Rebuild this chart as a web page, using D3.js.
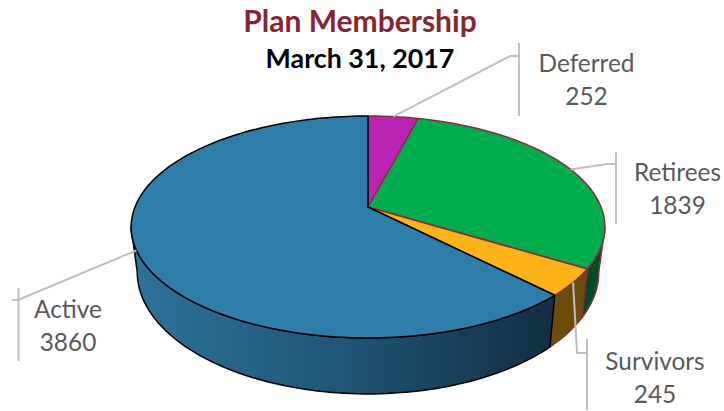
<!DOCTYPE html>
<html>
<head>
<meta charset="utf-8">
<script src="https://cdn.jsdelivr.net/npm/d3@7"></script>
<style>
  html, body { margin: 0; padding: 0; background: #fff; }
  svg { display: block; }
  text { font-family: Lato, "Open Sans", sans-serif; }
</style>
</head>
<body>
<svg id="chart" width="724" height="411"></svg>
<script>
const categories = ["Deferred", "Retirees", "Survivors", "Active"];
const members = [252, 1839, 245, 3860];
const topColors = ["#b926b3", "#00ac4e", "#fdb31a", "#2e7ea9"];
const sideColors = ["#5c1359", "#004d25", "#6b4c0b", "url(#activeSide)"];
const outlineColors = ["#8a2b3e", "#8a2b3e", "#8a2b3e", "#000000"];
// Leader elbow and label placement, in slice order.
const elbows = [[510, 56], [607, 164], [577, 353], [18, 300]];
const barX = [519, 616, 587, 18.5];
const barY = [[43, 116], [152, 224], [339, 410], [288, 361]];
const stubEnd = [519, 616, 587, 12];
const labelX = [586.5, 677.5, 655, 68];
const labelY = [72, 181, 370, 318];

const svg = d3.select("#chart");

// Horizontal shading on the front wall of the largest slice.
const grad = svg.append("defs").append("linearGradient")
  .attr("id", "activeSide").attr("gradientUnits", "userSpaceOnUse")
  .attr("x1", 135).attr("x2", 552).attr("y1", 0).attr("y2", 0);
grad.append("stop").attr("offset", 0).attr("stop-color", "#2f7299");
grad.append("stop").attr("offset", 0.5).attr("stop-color", "#1f5576");
grad.append("stop").attr("offset", 1).attr("stop-color", "#132e41");

// The disc is tilted in perspective: a circle seen through a projective map.
const tilt = 0.18;
function projector(cx, cy, b, a) {
  return t => {
    const X = Math.sin(t), Y = -Math.cos(t), w = 1 - tilt * Y;
    return [cx + b * X / w, cy + a * Y / w];
  };
}
const topFace = projector(368, 207, 233, 107.4);
const baseFace = projector(368, 250, 227, 118);
const centre = [368, 207];

const arcs = d3.pie().sort(null).value(d => d)(members);
const line = d3.line();
const rad = Math.PI / 180;
const wallFrom = 100.4 * rad, wallTo = 259.6 * rad;

function sweep(a0, a1) {
  const n = Math.max(2, Math.ceil((a1 - a0) / (1.5 * rad)));
  return d3.range(n + 1).map(i => a0 + (a1 - a0) * i / n);
}

// Walls first, top faces over them.
arcs.forEach((d, i) => {
  const a0 = Math.max(d.startAngle, wallFrom), a1 = Math.min(d.endAngle, wallTo);
  if (a1 <= a0) return;
  const angles = sweep(a0, a1);
  const outline = angles.map(topFace).concat(angles.slice().reverse().map(baseFace));
  svg.append("path")
    .attr("d", line(outline) + "Z")
    .attr("fill", sideColors[i])
    .attr("stroke", outlineColors[i])
    .attr("stroke-width", 1.5)
    .attr("stroke-linejoin", "round");
});

arcs.forEach((d, i) => {
  const rim = sweep(d.startAngle, d.endAngle).map(topFace);
  svg.append("path")
    .attr("d", line([centre, ...rim]) + "Z")
    .attr("fill", topColors[i])
    .attr("stroke", outlineColors[i])
    .attr("stroke-width", 1.5)
    .attr("stroke-linejoin", "round");
});

// Leader lines with their vertical label bars.
arcs.forEach((d, i) => {
  const start = topFace((d.startAngle + d.endAngle) / 2);
  const g = svg.append("g").attr("fill", "none").attr("stroke", "#bfbfbf").attr("stroke-width", 2);
  g.append("path").attr("d", line([start, elbows[i], [stubEnd[i], elbows[i][1]]]));
  g.append("path").attr("d", line([[barX[i], barY[i][0]], [barX[i], barY[i][1]]]));
  const t = svg.append("text").attr("text-anchor", "middle").attr("fill", "#595959").attr("font-size", 24.4);
  t.append("tspan").attr("x", labelX[i]).attr("y", labelY[i]).text(categories[i]);
  t.append("tspan").attr("x", labelX[i]).attr("y", labelY[i] + 33).text(members[i]);
});

svg.append("text").attr("x", 360).attr("y", 32).attr("text-anchor", "middle")
  .attr("font-size", 30).attr("font-weight", 700).attr("fill", "#862633").text("Plan Membership");
svg.append("text").attr("x", 360).attr("y", 68).attr("text-anchor", "middle")
  .attr("font-size", 26.8).attr("font-weight", 700).attr("fill", "#000").text("March 31, 2017");
</script>
</body>
</html>
